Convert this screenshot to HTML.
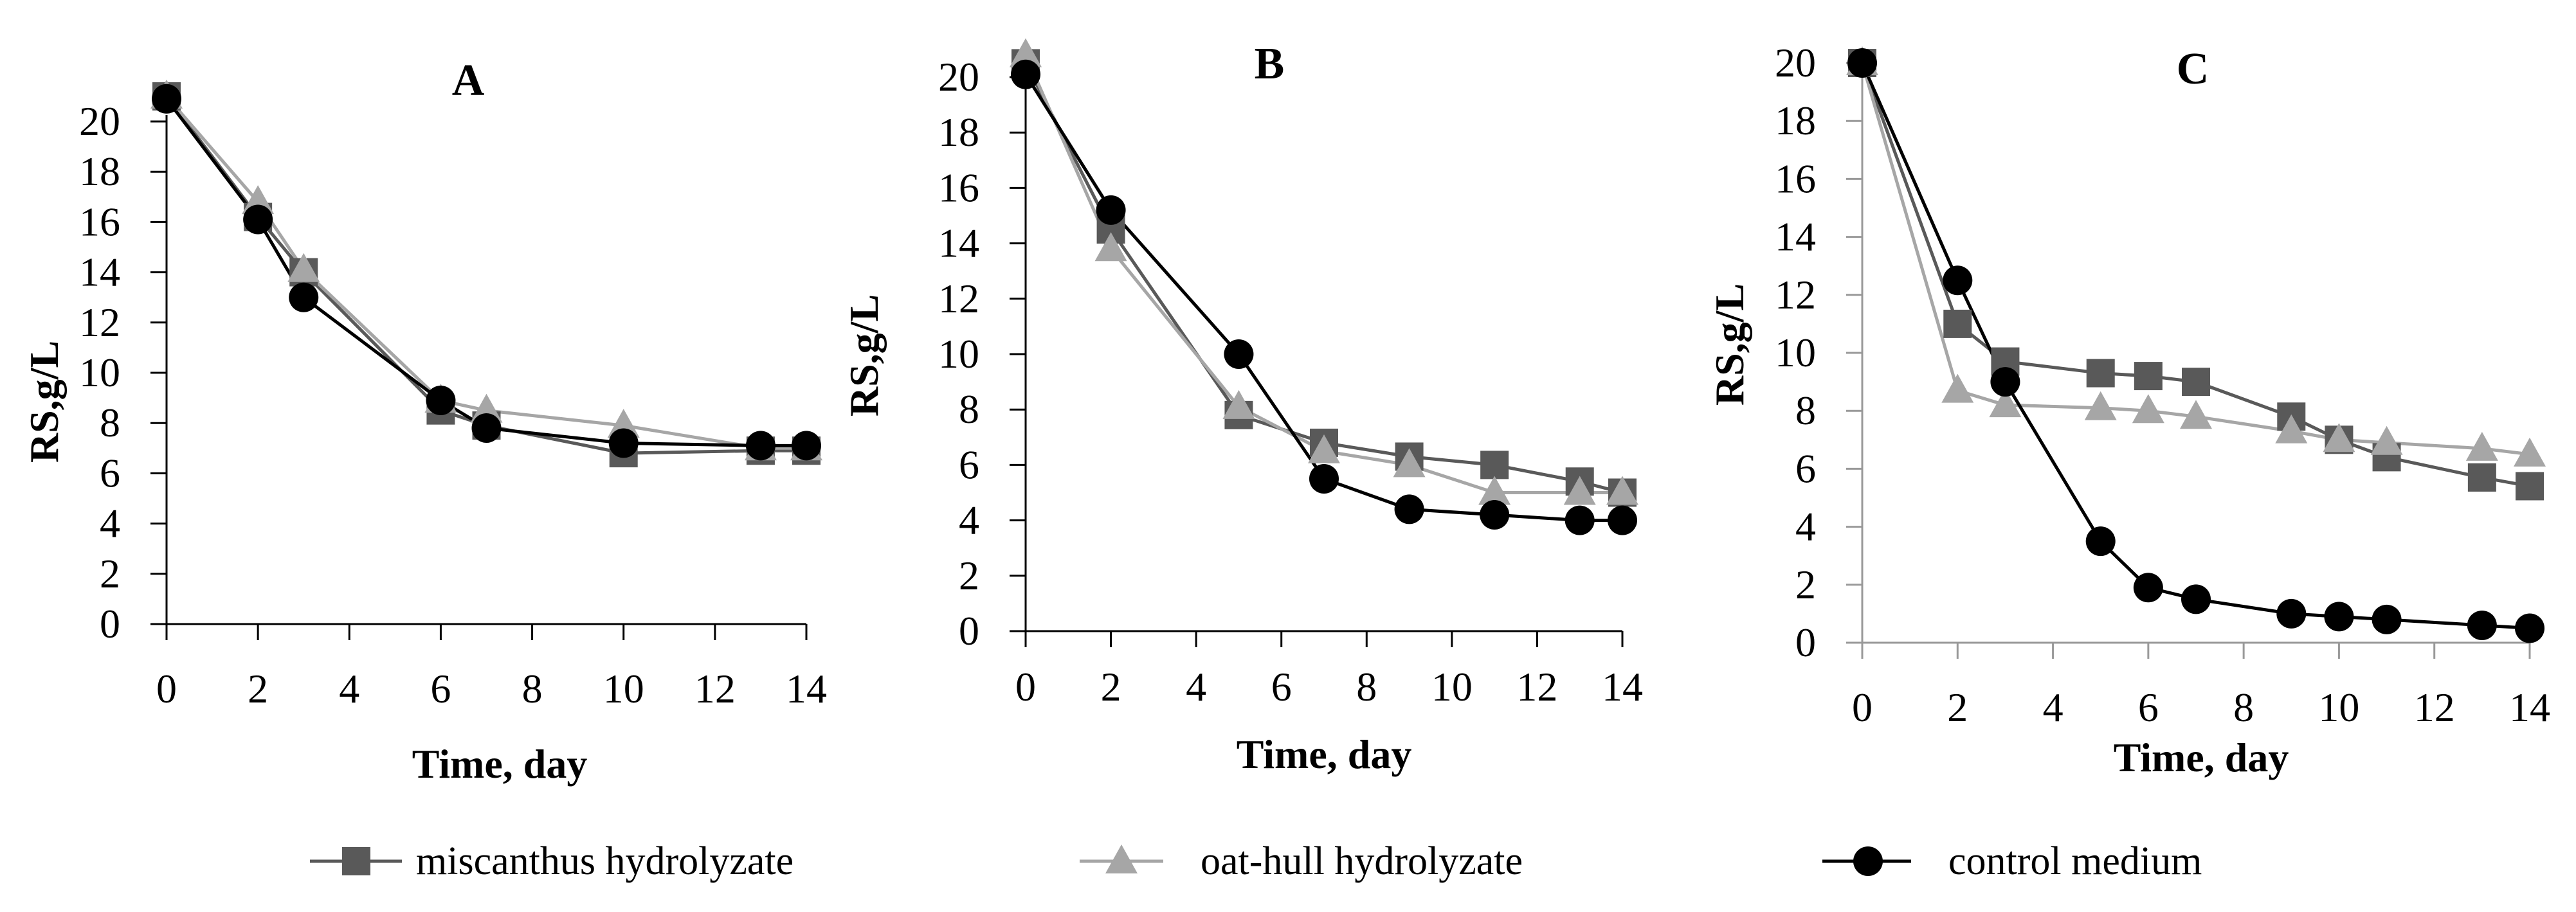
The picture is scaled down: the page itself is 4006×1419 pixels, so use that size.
<!DOCTYPE html>
<html><head><meta charset="utf-8"><style>
html,body{margin:0;padding:0;background:#fff;}
svg{display:block;font-family:"Liberation Serif",serif;}
</style></head><body>
<svg id="chart" width="4006" height="1419" viewBox="0 0 4006 1419" xmlns="http://www.w3.org/2000/svg"></svg>
<script>
const daysA = [0,2,3,6,7,10,13,14];
const miscA = [21,16.2,14,8.5,7.9,6.8,6.9,6.9];
const oatA = [21,16.8,14.1,8.9,8.5,7.9,7,7];
const ctrlA = [20.9,16.1,13,8.9,7.8,7.2,7.1,7.1];
const daysB = [0,2,5,7,9,11,13,14];
const miscB = [20.5,14.5,7.8,6.8,6.3,6.0,5.4,5.0];
const oatB = [20.8,13.8,8.1,6.5,6.0,5.0,5.0,5.0];
const ctrlB = [20.1,15.2,10.0,5.5,4.4,4.2,4.0,4.0];
const daysC = [0,2,3,5,6,7,9,10,11,13,14];
const miscC = [20,11,9.7,9.3,9.2,9.0,7.8,7.0,6.4,5.7,5.4];
const oatC = [20,8.7,8.2,8.1,8.0,7.8,7.3,7.0,6.9,6.7,6.5];
const ctrlC = [20,12.5,9.0,3.5,1.9,1.5,1.0,0.9,0.8,0.6,0.5];
const xTicks = [0,2,4,6,8,10,12,14];
const yTicks = [0,2,4,6,8,10,12,14,16,18,20];
const panelTitles = ['A','B','C'];

const NS='http://www.w3.org/2000/svg';
const svg=document.getElementById('chart');
function mk(tag,attrs,parent){const e=document.createElementNS(NS,tag);for(const k in attrs)e.setAttribute(k,attrs[k]);(parent||svg).appendChild(e);return e;}

const panels=[
 {x0:259,x1:1254,y0:971,y20:189,axis:'#000',title:[728,148],xt:[777,1210],yt:[70,625],xl:122,days:daysA,m:miscA,o:oatA,c:ctrlA},
 {x0:1595,x1:2523,y0:982,y20:120,axis:'#000',title:[1974,122],xt:[2059,1195],yt:[1345,553],xl:108,days:daysB,m:miscB,o:oatB,c:ctrlB},
 {x0:2896,x1:3934,y0:1000,y20:98,axis:'#999',title:[3410,130],xt:[3423,1200],yt:[2691,536],xl:122,days:daysC,m:miscC,o:oatC,c:ctrlC}
];

function marker(type,x,y,g){
  let e;
  if(type==='sq'){e=mk('rect',{x:x-22,y:y-22,width:44,height:44,fill:'#595959'},g);}
  else if(type==='tri'){e=mk('polygon',{points:`${x},${y-26} ${x+25},${y+19} ${x-25},${y+19}`,fill:'#a6a6a6'},g);}
  else {e=mk('circle',{cx:x,cy:y,r:23,fill:'#000'},g);}
  return e;
}

panels.forEach((p,i)=>{
  const g=mk('g',{});
  
  
  const sx=v=>p.x0+(p.x1-p.x0)*v/14;
  const sy=v=>p.y0+(p.y20-p.y0)*v/20;
  const ya=mk('line',{x1:p.x0,y1:sy(20)-10,x2:p.x0,y2:p.y0,stroke:p.axis,'stroke-width':3},g);
  
  
  const xa=mk('line',{x1:p.x0-25,y1:p.y0,x2:p.x1,y2:p.y0,stroke:p.axis,'stroke-width':3},g);
  
  
  yTicks.forEach(v=>{
    mk('line',{x1:p.x0-25,y1:sy(v),x2:p.x0,y2:sy(v),stroke:p.axis,'stroke-width':3},g);
    const t=mk('text',{x:p.x0-72,y:sy(v)+21,'text-anchor':'end','font-size':64,fill:'#000'},g);
    
    
    t.textContent=v;
  });
  xTicks.forEach(v=>{
    mk('line',{x1:sx(v),y1:p.y0,x2:sx(v),y2:p.y0+25,stroke:p.axis,'stroke-width':3},g);
    const t=mk('text',{x:sx(v),y:p.y0+p.xl,'text-anchor':'middle','font-size':64,fill:'#000'},g);
    
    
    t.textContent=v;
  });
  const tt=mk('text',{x:p.title[0],y:p.title[1],'text-anchor':'middle','font-size':70,'font-weight':'bold'},g);
  
  
  tt.textContent=panelTitles[i];
  const xt=mk('text',{x:p.xt[0],y:p.xt[1],'text-anchor':'middle','font-size':64,'font-weight':'bold'},g);
  
  
  xt.textContent='Time, day';
  const yt=mk('text',{x:p.yt[0],y:p.yt[1],'text-anchor':'middle','font-size':64,'font-weight':'bold',transform:`rotate(-90 ${p.yt[0]} ${p.yt[1]}) translate(0 20)`},g);
  
  
  yt.textContent='RS,g/L';
  const series=[[p.m,'#595959','sq','miscanthus'],[p.o,'#a6a6a6','tri','oat-hull'],[p.c,'#000','circ','control']];
  series.forEach(s=>{
    const pts=p.days.map((d,j)=>sx(d)+','+sy(s[0][j])).join(' ');
    const l=mk('polyline',{points:pts,fill:'none',stroke:s[1],'stroke-width':5,'stroke-linejoin':'round'},g);
    
    
  });
  series.forEach(s=>{
    p.days.forEach((d,j)=>{
      const m=marker(s[2],sx(d),sy(s[0][j]),g);
      
      
    });
  });
});

const legend=[[482,625,554,647,'sq','#595959','miscanthus hydrolyzate'],[1679,1809,1744,1867,'tri','#a6a6a6','oat-hull hydrolyzate'],[2834,2972,2905,3030,'circ','#000','control medium']];
legend.forEach(L=>{
  const g=mk('g',{});
  
  
  mk('line',{x1:L[0],y1:1340,x2:L[1],y2:1340,stroke:L[5],'stroke-width':5},g);
  marker(L[4],L[2],1340,g);
  const t=mk('text',{x:L[3],y:1360,'font-size':62,fill:'#000'},g);
  t.textContent=L[6];
});
</script>
</body></html>
